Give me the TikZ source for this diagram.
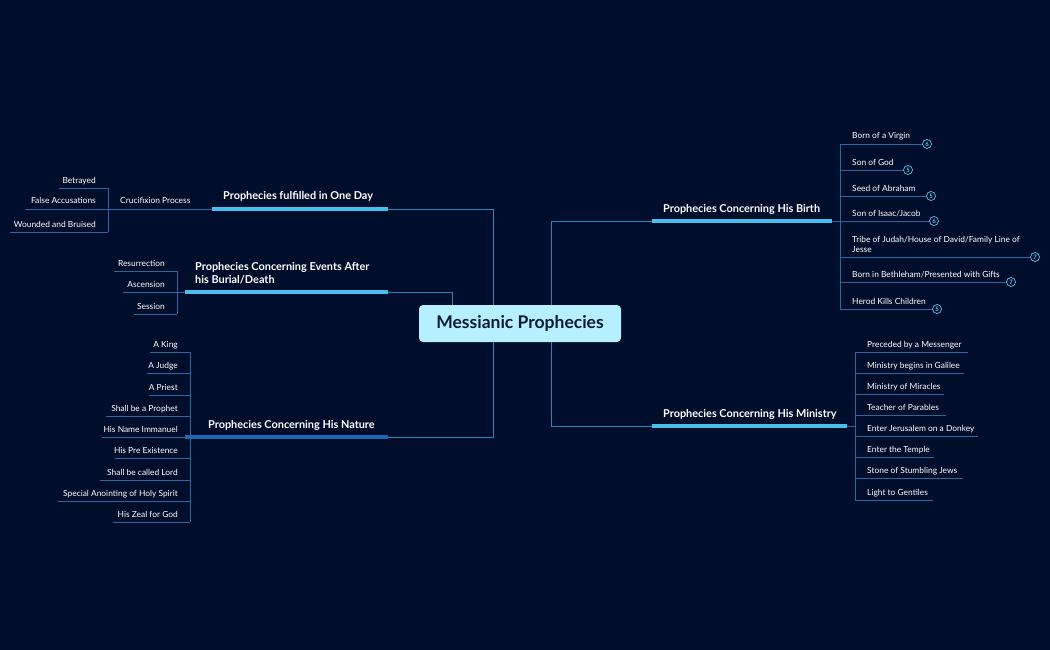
\documentclass[tikz,border=0pt]{standalone}
\usepackage{fontspec}
\setmainfont{Lato}
\definecolor{bg}{HTML}{010E2B}
\definecolor{conn}{HTML}{2A86B8}
\definecolor{leaf}{HTML}{2768A0}
\definecolor{bright}{HTML}{45C0EC}
\definecolor{deep}{HTML}{1E63B8}
\definecolor{rootfill}{HTML}{B6EFFD}
\definecolor{roottext}{HTML}{0B1A38}
\definecolor{badge}{HTML}{5CC6EE}
\tikzset{
 x=1pt,y=-1pt,
 conline/.style={conn,line width=0.8pt},
 leafline/.style={leaf,line width=0.8pt},
 under/.style={bright,line width=3.5pt},
 branch/.style={text=white,font=\fontsize{10.9}{13}\selectfont\bfseries,inner sep=0pt,align=left},
 lt/.style={text=white,font=\fontsize{8.4}{10}\selectfont,inner sep=0pt},
 numb/.style={circle,draw=badge,line width=0.7pt,minimum size=9pt,inner sep=0pt,text=badge,font=\fontsize{6}{6}\selectfont\bfseries,fill=bg},
}
\newcommand{\rleaf}[5]{% name, x0, y, xend, text
 \draw[leafline] (#2,#3) -- (#4,#3);
 \node[lt,anchor=base west] (#1) at (#2+12,#3-5) {#5};}
\newcommand{\lleaf}[5]{% name, xright, y, xleft, text
 \draw[leafline] (#4,#3) -- (#2,#3);
 \node[lt,anchor=base east] (#1) at (#2-12,#3-5) {#5};}
\begin{document}
\begin{tikzpicture}
\fill[bg] (0,0) rectangle (1050,650);
\useasboundingbox (0,0) rectangle (1050,650);
% root
\node[fill=rootfill,rounded corners=4pt,minimum width=202pt,minimum height=37pt,text=roottext,font=\fontsize{17.5}{19}\selectfont\bfseries] (root) at (520,323.5) {Messianic Prophecies};
% connectors from root
\draw[conline] (493,305) -- (493,209) -- (388,209);
\draw[conline] (452,305) -- (452,292) -- (388,292);
\draw[conline] (493,342) -- (493,437) -- (388,437);
\draw[conline] (551,305) -- (551,221) -- (652,221);
\draw[conline] (551,342) -- (551,426) -- (652,426);
% branches
\draw[under] (212,209) -- (388,209);
\node[branch,anchor=base west] (oneday) at (223,200) {Prophecies fulfilled in One Day};
\draw[under] (185,292) -- (388,292);
\node[branch,anchor=base west] (events) at (195,283) {Prophecies Concerning Events After\\his Burial/Death};
\draw[deep,line width=3.5pt] (185,437) -- (388,437);
\node[branch,anchor=base west] (nature) at (208,428) {Prophecies Concerning His Nature};
\draw[under] (652,221) -- (832,221);
\node[branch,anchor=base west] (birth) at (663,212) {Prophecies Concerning His Birth};
\draw[under] (652,426) -- (847,426);
\node[branch,anchor=base west] (ministry) at (663,417) {Prophecies Concerning His Ministry};
% One day
\draw[leafline] (212,209) -- (108,209);
\node[lt,anchor=base west] (cruc) at (120,204) {Crucifixion Process};
\draw[leafline] (108,188) -- (108,232);
\lleaf{b1}{108}{188}{59}{Betrayed}
\lleaf{b2}{108}{209}{25}{False Accusations}
\lleaf{b3}{108}{232}{10}{Wounded and Bruised}
% events
\draw[leafline] (185,292) -- (177,292);
\draw[leafline] (177,271) -- (177,314);
\lleaf{e1}{177}{271}{114}{Resurrection}
\lleaf{e2}{177}{292}{123}{Ascension}
\lleaf{e3}{177}{314}{134}{Session}
% nature
\draw[leafline] (190,352) -- (190,522);
\lleaf{n1}{190}{352}{150}{A King}
\lleaf{n2}{190}{373}{147}{A Judge}
\lleaf{n3}{190}{395}{149}{A Priest}
\lleaf{n4}{190}{416}{106}{Shall be a Prophet}
\lleaf{n5}{190}{437}{102}{His Name Immanuel}
\lleaf{n6}{190}{458}{115}{His Pre Existence}
\lleaf{n7}{190}{480}{100}{Shall be called Lord}
\lleaf{n8}{190}{501}{58}{Special Anointing of Holy Spirit}
\lleaf{n9}{190}{522}{113}{His Zeal for God}
% birth
\draw[leafline] (832,221) -- (840,221);
\draw[leafline] (840,144) -- (840,309);
\rleaf{r1}{840}{144}{927}{Born of a Virgin}
\rleaf{r2}{840}{170}{908}{Son of God}
\rleaf{r3}{840}{196}{931}{Seed of Abraham}
\rleaf{r4}{840}{221}{934}{Son of Isaac/Jacob}
\draw[leafline] (840,257) -- (1035,257);
\node[lt,anchor=base west,align=left] (r5) at (852,252) {Tribe of Judah/House of David/Family Line of\\Jesse};
\rleaf{r6}{840}{282}{1011}{Born in Bethleham/Presented with Gifts}
\rleaf{r7}{840}{309}{937}{Herod Kills Children}
\node[numb] (c1) at (927,144) {6};
\node[numb] (c2) at (908,170) {5};
\node[numb] (c3) at (931,196) {5};
\node[numb] (c4) at (934,221) {6};
\node[numb] (c5) at (1035,257) {7};
\node[numb] (c6) at (1011,282) {7};
\node[numb] (c7) at (937,309) {5};
% ministry
\draw[leafline] (847,426) -- (855,426);
\draw[leafline] (855,352) -- (855,500);
\rleaf{m1}{855}{352}{968}{Preceded by a Messenger}
\rleaf{m2}{855}{373}{964}{Ministry begins in Galilee}
\rleaf{m3}{855}{394}{944}{Ministry of Miracles}
\rleaf{m4}{855}{415}{946}{Teacher of Parables}
\rleaf{m5}{855}{436}{978}{Enter Jerusalem on a Donkey}
\rleaf{m6}{855}{457}{934}{Enter the Temple}
\rleaf{m7}{855}{478}{963}{Stone of Stumbling Jews}
\rleaf{m8}{855}{500}{933}{Light to Gentiles}
\end{tikzpicture}
\end{document}
